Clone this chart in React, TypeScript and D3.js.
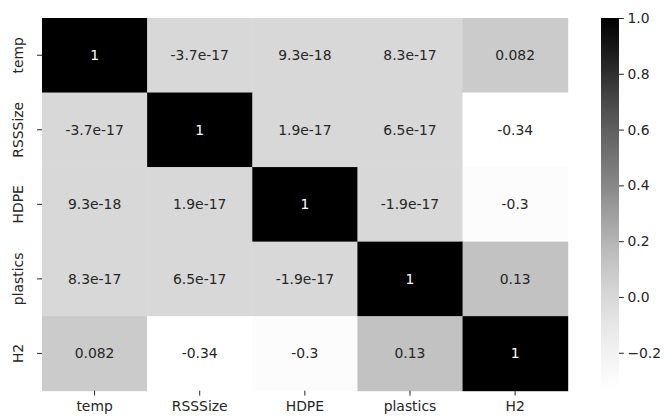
import * as React from 'react';
import * as d3 from 'd3';

const variables = ['temp', 'RSSSize', 'HDPE', 'plastics', 'H2'];

const tempRow = [1, -3.7e-17, 9.3e-18, 8.3e-17, 0.082];
const rssRow = [-3.7e-17, 1, 1.9e-17, 6.5e-17, -0.336];
const hdpeRow = [9.3e-18, 1.9e-17, 1, -1.9e-17, -0.3];
const plasticsRow = [8.3e-17, 6.5e-17, -1.9e-17, 1, 0.13];
const h2Row = [0.082, -0.336, -0.3, 0.13, 1];

const colorbarTicks = [1.0, 0.8, 0.6, 0.4, 0.2, 0.0, -0.2];

const W = 668;
const H = 419;

function fmt(v: number) {
    return d3.format('.2~g')(v).replace('−', '-');
}

export default function App() {
    const ref = React.useRef<SVGSVGElement>(null);

    React.useEffect(() => {
        const matrix = [tempRow, rssRow, hdpeRow, plasticsRow, h2Row];
        const cells = [];
        matrix.forEach((row, i) => row.forEach((v, j) => cells.push({ r: variables[i], c: variables[j], v })));

        const svg = d3.select(ref.current);
        svg.selectAll('*').remove();

        const left = 42, top = 18, right = 567.7, bottom = 390.7;
        const vmin = d3.min(cells, (d: any) => d.v) as number;
        const vmax = 1.0;

        const x = d3.scaleBand().domain(variables).range([left, right]);
        const y = d3.scaleBand().domain(variables).range([top, bottom]);
        const colour = d3.scaleSequential(d3.interpolateGreys).domain([vmin, vmax]);

        const g = svg.append('g');
        g.selectAll('rect.cell')
            .data(cells)
            .enter()
            .append('rect')
            .attr('class', 'cell')
            .attr('x', (d: any) => x(d.c))
            .attr('y', (d: any) => y(d.r))
            .attr('width', x.bandwidth() + 0.5)
            .attr('height', y.bandwidth() + 0.5)
            .attr('fill', (d: any) => colour(d.v));

        g.selectAll('text.annot')
            .data(cells)
            .enter()
            .append('text')
            .attr('class', 'annot')
            .attr('x', (d: any) => x(d.c) + x.bandwidth() / 2)
            .attr('y', (d: any) => y(d.r) + y.bandwidth() / 2)
            .attr('dy', '0.36em')
            .attr('text-anchor', 'middle')
            .style('font-size', '13.9px')
            .style('fill', (d: any) => (d3.hsl(colour(d.v)).l < 0.45 ? '#ffffff' : '#262626'))
            .text((d: any) => fmt(d.v));

        // x axis
        const xAxis = d3.axisBottom(x).tickSize(4.9).tickPadding(6);
        const xg = svg.append('g').attr('transform', 'translate(0,' + bottom + ')').call(xAxis);
        xg.select('.domain').remove();
        xg.selectAll('text').style('font-size', '13.9px').style('fill', '#262626');
        xg.selectAll('line').style('stroke', '#262626');

        // y axis
        const yAxis = d3.axisLeft(y).tickSize(4.9).tickPadding(3.5);
        const yg = svg.append('g').attr('transform', 'translate(' + left + ',0)').call(yAxis);
        yg.select('.domain').remove();
        yg.selectAll('line').style('stroke', '#262626');
        yg.selectAll('text')
            .style('font-size', '13.9px')
            .style('fill', '#262626')
            .attr('x', 0)
            .attr('dy', 0)
            .attr('text-anchor', 'middle')
            .attr('transform', 'translate(-19,0) rotate(-90)');

        // colorbar
        const cbLeft = 601, cbRight = 619;
        const cy = d3.scaleLinear().domain([vmin, vmax]).range([bottom, top]);
        const defs = svg.append('defs');
        const grad = defs.append('linearGradient')
            .attr('id', 'cbgrad')
            .attr('x1', 0).attr('y1', 1).attr('x2', 0).attr('y2', 0);
        d3.range(0, 1.0001, 0.05).forEach(t => {
            grad.append('stop')
                .attr('offset', t)
                .attr('stop-color', d3.interpolateGreys(t));
        });
        svg.append('rect')
            .attr('x', cbLeft)
            .attr('y', top)
            .attr('width', cbRight - cbLeft)
            .attr('height', bottom - top)
            .attr('fill', 'url(#cbgrad)');

        const cAxis = d3.axisRight(cy)
            .tickValues(colorbarTicks)
            .tickFormat((d: any) => d3.format('.1f')(d))
            .tickSize(4.9)
            .tickPadding(3.5);
        const cg = svg.append('g').attr('transform', 'translate(' + cbRight + ',0)').call(cAxis);
        cg.select('.domain').remove();
        cg.selectAll('text').style('font-size', '13.9px').style('fill', '#262626');
        cg.selectAll('line').style('stroke', '#262626');

        svg.selectAll('text').style('font-family', 'DejaVu Sans');
    }, []);

    return (
        <div style={{ position: 'absolute', left: 0, top: 0 }}>
            <svg ref={ref} width={W} height={H} style={{ display: 'block', background: '#fff' }} />
        </div>
    );
}
